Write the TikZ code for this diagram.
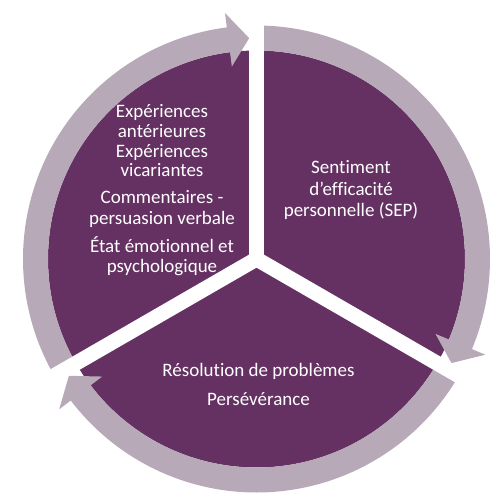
\documentclass[tikz,border=0pt]{standalone}
\usepackage{fontspec}
\setmainfont{Carlito}[Ligatures=NoCommon]
\definecolor{sepPurple}{RGB}{101,49,99}
\definecolor{sepRing}{RGB}{183,169,183}
\newcommand\sepArrow[2]{%
  \pgfmathsetmacro\sepTip{#2-5.4}%
  \fill[ringarrow] (#1:233.5) arc[start angle=#1, end angle=#2, radius=233.5]
    -- (#2:248) -- (\sepTip:221) -- (#2:194) -- (#2:208.5)
    arc[start angle=#2, end angle=#1, radius=208.5] -- cycle;}
\begin{document}
\begin{tikzpicture}[x=1pt,y=1pt,
  lbl/.style={text=white, font=\fontsize{19}{20}\selectfont, anchor=base, inner sep=0pt},
  ringarrow/.style={fill=sepRing, draw=none},
  divider/.style={draw=white, line width=15pt}]
\useasboundingbox (-256.5,-242) rectangle (243.5,259);
\coordinate (c) at (0,0);
\fill[sepPurple] (c) circle (208.5);
\sepArrow{210}{97.3}
\sepArrow{90}{-22.7}
\sepArrow{-30}{-142.7}
\coordinate (e1) at (90:270);
\coordinate (e2) at (-30:270);
\coordinate (e3) at (210:270);
\draw[divider] (c) -- (e1);
\draw[divider] (c) -- (e2);
\draw[divider] (c) -- (e3);
% left block
\node[lbl] (l1) at (-94.5,141) {Expériences};
\node[lbl] (l2) at (-94.5,121.5) {antérieures};
\node[lbl] (l3) at (-94.5,101.5) {Expériences};
\node[lbl] (l4) at (-94.5,82) {vicariantes};
\node[lbl] (l5) at (-94.5,55.5) {Commentaires -};
\node[lbl] (l6) at (-94.5,35) {persuasion verbale};
\node[lbl] (l7) at (-94.5,7) {État émotionnel et};
\node[lbl] (l8) at (-94.5,-13.5) {psychologique};
% right block
\node[lbl] (r1) at (94.5,85) {Sentiment};
\node[lbl] (r2) at (94.5,63.5) {d’efficacité};
\node[lbl] (r3) at (94.5,42) {personnelle (SEP)};
% bottom block
\node[lbl] (b1) at (2,-117.7) {Résolution de problèmes};
\node[lbl] (b2) at (2,-146) {Persévérance};
\end{tikzpicture}
\end{document}
